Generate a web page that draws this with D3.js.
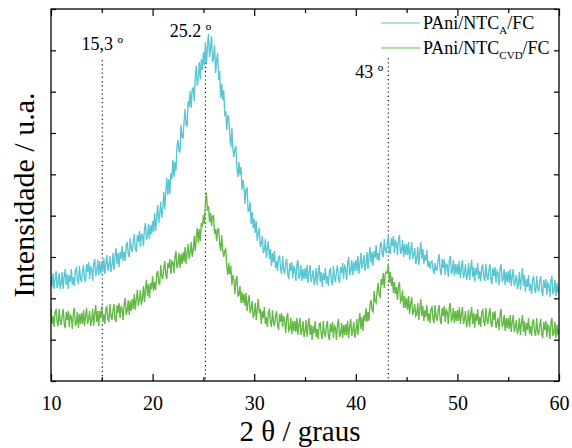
<!DOCTYPE html>
<html><head><meta charset="utf-8">
<script src="https://cdn.jsdelivr.net/npm/d3@7"></script>
<style>
body{margin:0;background:#fff}
svg{display:block}
text{font-family:"Liberation Serif","Times New Roman",serif;fill:#000}
</style>
</head><body>
<svg id="c" width="572" height="448"></svg>
<script>
// 2θ sampling grid: 10.0 … 60.0 every 0.1°
const thetaStart = 10, thetaStep = 0.1, nPts = 501;
const twoTheta = d3.range(nPts).map(i => +(thetaStart + i * thetaStep).toFixed(1));

// Intensity (a.u.), one row per degree
const seriesA = [
105,94,108,92,102,110,93,98,108,92,
97,109,92,104,112,96,107,92,106,99,
112,96,104,95,111,113,101,97,115,103,
99,109,116,102,99,117,109,119,102,114,
112,100,117,122,105,109,121,106,120,107,
119,109,123,107,117,126,110,115,125,109,
115,128,111,124,133,117,128,114,129,122,
135,120,129,120,136,139,127,124,143,132,
129,140,147,132,129,146,139,150,134,147,
146,135,152,158,141,145,157,142,156,147,
160,149,168,150,164,176,158,167,179,163,
171,189,172,190,203,186,202,187,208,202,
221,204,219,210,235,241,230,229,256,244,
243,260,272,256,255,280,274,290,273,292,
293,280,305,315,295,302,319,302,322,311,
329,316,339,317,334,347,324,332,345,319,
323,336,308,321,328,301,310,283,297,281,
291,265,270,251,266,263,244,234,253,232,
224,232,235,213,204,219,206,214,191,201,
194,177,192,193,170,170,179,157,169,153,
162,148,160,140,148,153,134,138,145,128,
131,142,123,134,140,122,132,115,128,119,
130,113,120,110,124,125,112,107,125,112,
107,117,122,107,102,118,110,119,103,114,
112,100,116,121,102,105,116,100,112,102,
113,102,116,98,109,116,99,104,111,96,
101,113,96,108,116,99,109,94,108,101,
113,97,105,95,110,112,100,96,115,103,
99,110,116,102,98,114,108,118,102,115,
113,101,118,124,106,110,121,106,119,110,
121,110,125,107,117,128,112,118,126,110,
116,129,112,125,134,118,129,115,130,123,
136,121,128,120,136,139,127,124,142,131,
128,138,145,130,127,143,135,145,128,140,
138,126,141,146,127,130,141,124,137,126,
137,126,139,121,131,139,122,127,133,117,
122,134,116,128,139,122,132,117,126,120,
131,114,120,112,119,120,112,107,118,111,
111,121,127,111,106,122,113,122,106,117,
116,104,120,125,107,110,121,105,117,107,
117,106,120,103,113,121,103,108,117,101,
106,118,101,113,121,104,114,99,113,106,
118,102,110,100,114,116,104,100,117,105,
101,111,117,102,97,113,105,114,98,110,
108,96,112,117,99,102,112,96,109,99,
110,98,112,95,105,112,95,100,106,92,
97,109,91,103,113,95,106,89,102,94,
106,90,97,87,102,104,92,88,105,93,
89,99,105,90,85,101,93,102,86,98,
96,84,100,105,87,90,101,85,98,88,
95];
const seriesCVD = [
73,57,65,54,69,71,59,55,72,60,
56,66,72,57,53,69,61,70,54,66,
64,52,68,73,55,58,69,53,67,57,
68,57,71,55,65,73,57,62,70,55,
60,72,55,67,76,59,70,55,70,63,
75,59,67,57,72,74,62,59,77,65,
61,71,77,62,59,76,68,78,63,75,
72,61,77,83,66,70,81,66,80,70,
82,72,87,71,82,91,75,81,91,76,
82,95,79,92,101,85,97,83,98,92,
105,90,99,91,107,110,99,96,116,105,
102,113,120,106,102,118,113,122,107,120,
119,108,124,130,113,117,128,113,127,117,
129,119,134,117,128,137,122,128,139,124,
131,145,130,143,153,138,152,140,158,154,
166,157,178,188,170,175,159,168,155,165,
165,147,152,140,152,152,137,130,146,131,
124,130,132,114,106,118,107,115,96,106,
101,87,101,105,85,86,95,78,89,78,
87,75,88,70,79,86,68,72,80,63,
67,78,61,72,82,68,72,57,70,63,
74,57,64,54,69,71,59,54,71,59,
55,65,70,56,51,67,59,68,54,65,
60,48,63,68,50,52,63,47,60,50,
60,49,63,46,56,63,46,51,60,44,
49,61,44,56,63,46,56,41,55,48,
60,44,52,42,57,58,46,42,60,48,
44,54,60,45,41,57,49,59,43,55,
53,41,57,62,44,47,58,43,56,46,
57,46,60,43,54,62,45,50,59,43,
49,62,46,59,68,52,64,50,66,60,
73,59,69,60,77,81,71,69,90,80,
78,90,98,86,84,102,96,108,93,107,
109,108,117,98,109,95,104,88,99,87,
94,81,95,99,79,81,91,73,85,73,
83,71,85,67,77,84,66,70,77,65,
67,78,61,72,82,65,75,60,71,64,
76,60,68,58,72,74,62,58,76,64,
60,70,76,61,57,73,65,75,59,71,
69,57,73,78,60,62,73,58,70,60,
71,60,74,57,67,74,57,62,70,54,
59,71,54,66,74,57,68,53,67,60,
72,56,64,54,69,71,59,55,73,61,
57,67,73,58,54,69,61,70,53,58,
63,51,67,72,54,57,66,50,63,53,
63,52,66,49,59,66,49,54,61,47,
51,63,46,58,66,49,60,45,58,51,
63,47,55,45,60,61,49,45,63,50,
46,56,62,47,43,59,51,60,44,56,
54,42,58,63,45,48,59,43,56,46,
52];

const seriesNames = ["PAni/NTC|A|/FC", "PAni/NTC|CVD|/FC"];
const seriesColors = ["#59c6d3", "#62b946"];
const xMajorTicks = [10, 20, 30, 40, 50, 60];
const xMinorTicks = [15, 25, 35, 45, 55];
const nYTicks = 9;
const peakPos = [15.05, 25.2, 43.2];
const peakLabels = ["15,3 º", "25.2 º", "43 º"];

const FONT = '"Liberation Serif", "Times New Roman", serif';
const svg = d3.select("#c");
const L = 51, R = 559, T = 9, B = 381;
const x = d3.scaleLinear().domain([10, 60]).range([L, R]);
const y = d3.scaleLinear().domain([0, 372]).range([B, T]);
const yTicks = d3.range(nYTicks + 1).map(i => i * 372 / nYTicks);

svg.append("clipPath").attr("id", "clip").append("rect")
  .attr("x", L).attr("y", T).attr("width", R - L).attr("height", B - T);

// peak dotted lines
const peakTop = [60, 50, 58];
peakPos.forEach((p, i) => {
  svg.append("line").attr("x1", x(p)).attr("x2", x(p))
    .attr("y1", peakTop[i]).attr("y2", B)
    .attr("stroke", "#000").attr("stroke-width", 1.1)
    .attr("stroke-dasharray", "1.2,3");
});

// series
const line = d3.line().x((d, i) => x(twoTheta[i])).y(d => y(d));
[seriesA, seriesCVD].forEach((s, k) => {
  svg.append("path").datum(s).attr("d", line)
    .attr("fill", "none").attr("stroke", seriesColors[k])
    .attr("stroke-width", 1.35).attr("clip-path", "url(#clip)");
});

// frame
svg.append("rect").attr("x", L).attr("y", T).attr("width", R - L).attr("height", B - T)
  .attr("fill", "none").attr("stroke", "#000").attr("stroke-width", 1.3);

// axes (ticks inward)
const gB = svg.append("g").attr("transform", `translate(0,${B})`)
  .call(d3.axisBottom(x).tickValues(xMajorTicks).tickSize(-7).tickPadding(15).tickFormat(d3.format("d")));
const gBm = svg.append("g").attr("transform", `translate(0,${B})`)
  .call(d3.axisBottom(x).tickValues(xMinorTicks).tickSize(-4).tickFormat(""));
const gT = svg.append("g").attr("transform", `translate(0,${T})`)
  .call(d3.axisTop(x).tickValues(xMajorTicks).tickSize(-7).tickFormat(""));
const gTm = svg.append("g").attr("transform", `translate(0,${T})`)
  .call(d3.axisTop(x).tickValues(xMinorTicks).tickSize(-4).tickFormat(""));
const gL = svg.append("g").attr("transform", `translate(${L},0)`)
  .call(d3.axisLeft(y).tickValues(yTicks).tickSize(-5).tickFormat(""));
const gR = svg.append("g").attr("transform", `translate(${R},0)`)
  .call(d3.axisRight(y).tickValues(yTicks).tickSize(-5).tickFormat(""));
[gB, gBm, gT, gTm, gL, gR].forEach(g => {
  g.attr("font-family", FONT);
  g.select(".domain").remove();
  g.selectAll(".tick line").attr("stroke", "#000").attr("stroke-width", 1.2);
});
gB.selectAll(".tick text").attr("font-size", 20).attr("fill", "#000")
  .attr("font-family", FONT);

// peak labels
svg.append("text").attr("x", x(peakPos[0])).attr("y", 50).attr("text-anchor", "middle")
  .attr("font-family", FONT).attr("font-size", 18).text(peakLabels[0]);
svg.append("text").attr("x", x(peakPos[1]) + 6).attr("y", 37).attr("text-anchor", "end")
  .attr("font-family", FONT).attr("font-size", 18).text(peakLabels[1]);
svg.append("text").attr("x", x(peakPos[2]) - 5).attr("y", 78).attr("text-anchor", "end")
  .attr("font-family", FONT).attr("font-size", 18).text(peakLabels[2]);

// legend
seriesNames.forEach((n, k) => {
  const ly = 23 + k * 25;
  svg.append("line").attr("x1", 381).attr("x2", 420).attr("y1", ly).attr("y2", ly)
    .attr("stroke", seriesColors[k]).attr("stroke-width", 1.2);
  const parts = n.split("|");
  const t = svg.append("text").attr("x", 423).attr("y", ly + 6)
    .attr("font-family", FONT).attr("font-size", 18);
  t.append("tspan").text(parts[0]);
  t.append("tspan").attr("dy", 5).attr("font-size", 11).text(parts[1]);
  t.append("tspan").attr("dy", -5).text(parts[2]);
});

// axis titles
svg.append("text").attr("x", 300).attr("y", 441).attr("text-anchor", "middle")
  .attr("font-family", FONT).attr("font-size", 29).text("2 θ / graus");
svg.append("text").attr("transform", `translate(34,${(T + B) / 2}) rotate(-90)`)
  .attr("text-anchor", "middle").attr("font-family", FONT).attr("font-size", 30)
  .text("Intensidade / u.a.");
</script>
</body></html>
